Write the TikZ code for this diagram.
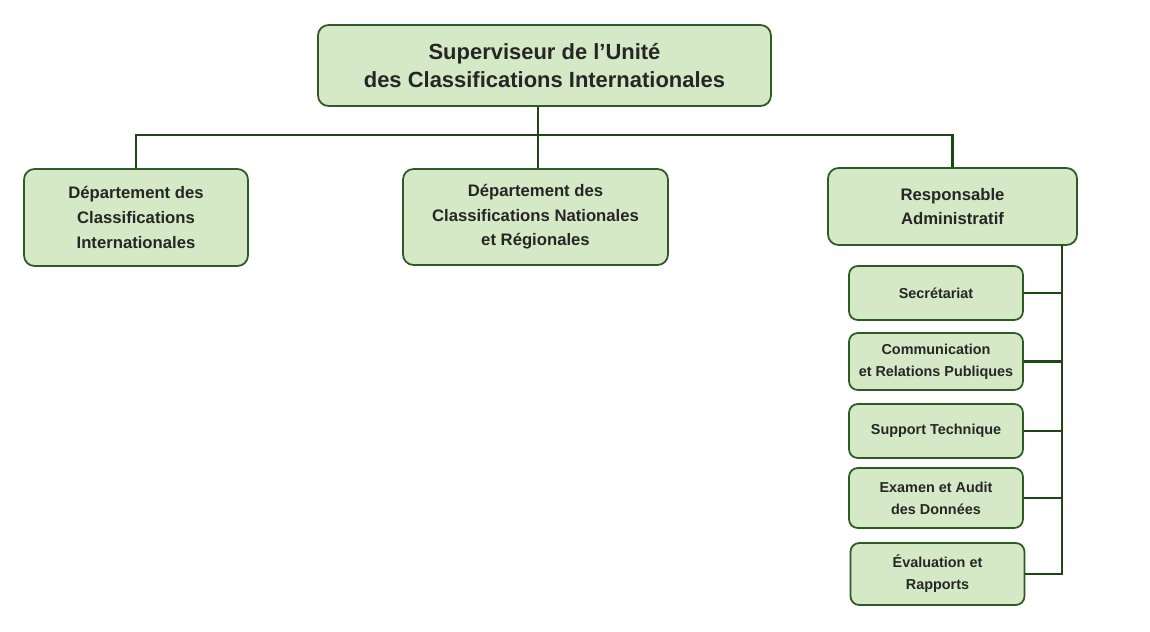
\documentclass[tikz,border=0pt]{standalone}
\usepackage{fontspec}
\setmainfont{Liberation Sans}
\usetikzlibrary{positioning}
\definecolor{boxfill}{HTML}{D6E9C6}
\definecolor{boxline}{HTML}{2E5A23}
\definecolor{linkline}{HTML}{1E4716}
\begin{document}
\begin{tikzpicture}[x=0.02cm,y=-0.02cm]

% Define block styles
\tikzstyle{unit} = [rectangle,rounded corners=6pt,draw=boxline,line width=1pt,fill=boxfill,align=center,font=\bfseries,inner sep=2pt,text=black!85]
\tikzstyle{link} = [draw=linkline,line width=1.6pt]

\useasboundingbox (0,0) rectangle (1150,632);

% Define nodes
\node (sup) [unit,minimum width=453*0.02cm,minimum height=81*0.02cm,font=\bfseries\fontsize{12.5}{16}\selectfont] at (544.5,65.5) {Superviseur de l’Unité\\des Classifications Internationales};
\node (dci) [unit,minimum width=224*0.02cm,minimum height=97*0.02cm,font=\bfseries\fontsize{9.5}{14}\selectfont] at (136,217.5) {Département des\\Classifications\\Internationales};
\node (dcn) [unit,minimum width=265*0.02cm,minimum height=96*0.02cm,font=\bfseries\fontsize{9.5}{14}\selectfont] at (535.5,217) {Département des\\Classifications Nationales\\et Régionales};
\node (resp) [unit,minimum width=249*0.02cm,minimum height=77*0.02cm,font=\bfseries\fontsize{9.5}{14}\selectfont] at (952.5,206.5) {Responsable\\Administratif};

\tikzstyle{sub} = [unit,rounded corners=5pt,minimum width=174*0.02cm,font=\bfseries\fontsize{8.2}{12.5}\selectfont]
\node (sec) [sub,minimum height=54*0.02cm] at (936,293) {Secrétariat};
\node (com) [sub,minimum height=57*0.02cm] at (936,361.5) {Communication\\et Relations Publiques};
\node (tech) [sub,minimum height=54*0.02cm] at (936,431) {Support Technique};
\node (audit) [sub,minimum height=60*0.02cm] at (936,498) {Examen et Audit\\des Données};
\node (eval) [sub,minimum height=62*0.02cm] at (937.5,574) {Évaluation et\\Rapports};

% Draw connectors
\coordinate (hub) at (538,135);
\coordinate (rail) at (1062,245);
\draw [link] (sup.south -| hub) -- (hub);
\draw [link] (dci.north) |- (hub) -| (resp.north);
\draw [link] (hub) -- (hub |- dcn.north);
\draw [link] (rail) -- (rail |- eval.east) -- (eval.east);
\foreach \n in {sec,com,tech,audit}
  \draw [link] (\n.east) -- (\n.east -| rail);

\end{tikzpicture}
\end{document}
